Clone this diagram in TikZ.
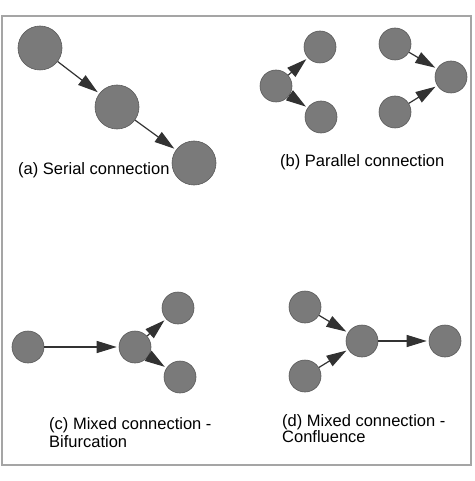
\documentclass[tikz,border=0pt]{standalone}
\usepackage{fontspec}
\setmainfont{Liberation Sans}
\usetikzlibrary{arrows.meta}
\definecolor{nodefill}{RGB}{122,122,122}
\definecolor{nodeline}{RGB}{90,90,90}
\definecolor{arrowcol}{RGB}{50,50,50}
\definecolor{framecol}{RGB}{165,165,165}
\tikzset{
  bignode/.style={circle,fill=nodefill,draw=nodeline,line width=0.6pt,minimum size=44pt,inner sep=0pt},
  smallnode/.style={circle,fill=nodefill,draw=nodeline,line width=0.6pt,minimum size=32pt,inner sep=0pt},
  conn/.style={draw=arrowcol,line width=1.2pt,-{Triangle[length=20pt,width=12pt]},arrowcol,shorten >=2pt},
  caption/.style={font=\fontsize{16.5}{18}\selectfont,align=left,anchor=base west,inner sep=0pt,text=black}
}
\begin{document}
\begin{tikzpicture}[x=1pt,y=-1pt]
\useasboundingbox (0,0) rectangle (474,481);
\fill[white] (0,0) rectangle (474,481);
\draw[framecol,line width=1.5pt] (2,16) rectangle (471,465);
% (a)
\node[bignode] (a1) at (40,48) {};
\node[bignode] (a2) at (117,107) {};
\node[bignode] (a3) at (194,163) {};
\draw[conn] (a1) -- (a2);
\draw[conn] (a2) -- (a3);
\node[caption] (ta) at (18,175) {(a) Serial connection};
% (b)
\node[smallnode] (b1) at (276,86) {};
\node[smallnode] (b2) at (320,47) {};
\node[smallnode] (b3) at (321,117) {};
\node[smallnode] (b4) at (395,44) {};
\node[smallnode] (b5) at (451,77) {};
\node[smallnode] (b6) at (395,112) {};
\draw[conn] (b1) -- (b2);
\draw[conn] (b1) -- (b3);
\draw[conn] (b4) -- (b5);
\draw[conn] (b6) -- (b5);
\node[caption] (tb) at (280,167) {(b) Parallel connection};
% (c)
\node[smallnode] (c1) at (28,347) {};
\node[smallnode] (c2) at (135,347) {};
\node[smallnode] (c3) at (178,308) {};
\node[smallnode] (c4) at (180,377) {};
\draw[conn] (c1) -- (c2);
\draw[conn] (c2) -- (c3);
\draw[conn] (c2) -- (c4);
\node[caption] (tc) at (49,447) {(c) Mixed connection -\\Bifurcation};
% (d)
\node[smallnode] (d1) at (305,307) {};
\node[smallnode] (d2) at (362,341) {};
\node[smallnode] (d3) at (445,341) {};
\node[smallnode] (d4) at (305,376) {};
\draw[conn] (d1) -- (d2);
\draw[conn] (d4) -- (d2);
\draw[conn] (d2) -- (d3);
\node[caption,font=\fontsize{16.5}{16}\selectfont] (td) at (282,442) {(d) Mixed connection -\\Confluence};
\end{tikzpicture}
\end{document}
